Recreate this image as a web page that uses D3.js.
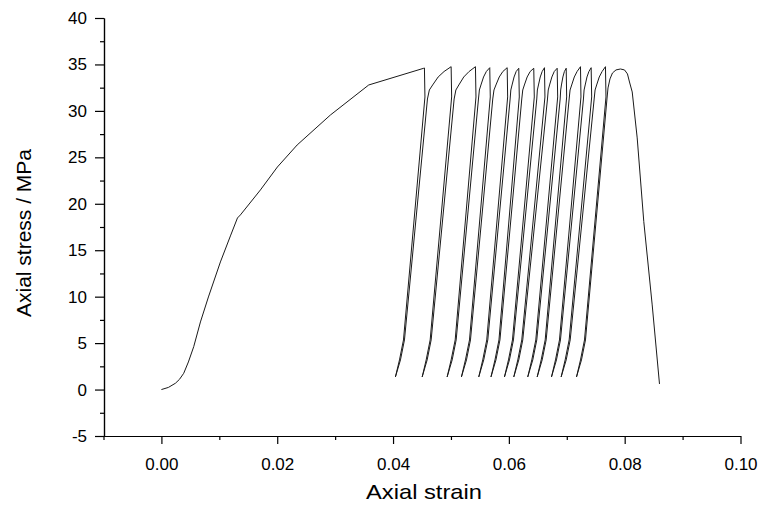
<!DOCTYPE html>
<html>
<head>
<meta charset="utf-8">
<script src="https://cdn.jsdelivr.net/npm/d3@7"></script>
<style>
  html, body { margin: 0; padding: 0; background: #fff; }
  svg { display: block; }
  text { font-family: "Liberation Sans", Arial, sans-serif; fill: #000; }
</style>
</head>
<body>
<svg id="chart" width="759" height="505"></svg>
<script>
// ---------- data ----------
// monotonic loading up to first peak
const loadStrain = [0, 0.00121, 0.00242, 0.00311, 0.00385, 0.00466, 0.00558, 0.00674, 0.00812, 0.01019, 0.01192, 0.01313, 0.01364, 0.01710, 0.02003, 0.02344, 0.02919, 0.03580, 0.04530, 0.04542];
const loadStress = [0, 0.23, 0.68, 1.09, 1.75, 2.97, 4.62, 7.28, 9.97, 13.74, 16.54, 18.47, 18.80, 21.49, 23.96, 26.33, 29.56, 32.79, 34.59, 34.62];

// unloading / reloading cycles (each: unload from peak to bottom, reload to next peak)
const cycleStrain = [
  0.04551, 0.04180, 0.04111, 0.04041, 0.04128, 0.04197, 0.04594, 0.04627, 0.04684, 0.04779, 0.04881, 0.05003,
  0.05012, 0.04641, 0.04572, 0.04503, 0.04589, 0.04658, 0.05055, 0.05085, 0.05136, 0.05221, 0.05313, 0.05423,
  0.05432, 0.05073, 0.05003, 0.04934, 0.05021, 0.05090, 0.05475, 0.05491, 0.05518, 0.05563, 0.05611, 0.05670,
  0.05679, 0.05320, 0.05250, 0.05181, 0.05268, 0.05337, 0.05722, 0.05743, 0.05777, 0.05834, 0.05896, 0.05971,
  0.05979, 0.05618, 0.05549, 0.05480, 0.05566, 0.05636, 0.06022, 0.06034, 0.06055, 0.06090, 0.06126, 0.06171,
  0.06180, 0.05829, 0.05760, 0.05691, 0.05777, 0.05846, 0.06223, 0.06240, 0.06268, 0.06316, 0.06368, 0.06430,
  0.06439, 0.06062, 0.05993, 0.05924, 0.06010, 0.06079, 0.06482, 0.06492, 0.06511, 0.06542, 0.06575, 0.06615,
  0.06623, 0.06223, 0.06154, 0.06085, 0.06171, 0.06240, 0.06667, 0.06680, 0.06703, 0.06743, 0.06784, 0.06834,
  0.06843, 0.06465, 0.06396, 0.06326, 0.06413, 0.06482, 0.06886, 0.06895, 0.06908, 0.06933, 0.06959, 0.06990,
  0.06998, 0.06627, 0.06558, 0.06489, 0.06575, 0.06644, 0.07041, 0.07057, 0.07085, 0.07130, 0.07178, 0.07237,
  0.07245, 0.06874, 0.06805, 0.06736, 0.06822, 0.06891, 0.07288, 0.07299, 0.07318, 0.07349, 0.07382, 0.07421,
  0.07430, 0.07041, 0.06972, 0.06903, 0.06990, 0.07059, 0.07473, 0.07489, 0.07516, 0.07561, 0.07610, 0.07668,
  0.07677, 0.07306, 0.07237, 0.07168, 0.07254, 0.07323
];
const cycleStress = [
  31.50, 5.34, 3.19, 1.36, 3.19, 5.34, 31.28, 32.25, 32.79, 33.65, 34.24, 34.76,
  31.50, 5.34, 3.19, 1.36, 3.19, 5.34, 31.28, 32.25, 32.79, 33.65, 34.24, 34.76,
  31.50, 5.34, 3.19, 1.36, 3.19, 5.34, 31.28, 32.25, 32.79, 33.65, 34.24, 34.65,
  31.50, 5.34, 3.19, 1.36, 3.19, 5.34, 31.28, 32.25, 32.79, 33.65, 34.24, 34.65,
  31.50, 5.34, 3.19, 1.36, 3.19, 5.34, 31.28, 32.25, 32.79, 33.65, 34.24, 34.59,
  31.50, 5.34, 3.19, 1.36, 3.19, 5.34, 31.28, 32.25, 32.79, 33.65, 34.24, 34.59,
  31.50, 5.34, 3.19, 1.36, 3.19, 5.34, 31.28, 32.25, 32.79, 33.65, 34.24, 34.65,
  31.50, 5.34, 3.19, 1.36, 3.19, 5.34, 31.28, 32.25, 32.79, 33.65, 34.24, 34.59,
  31.50, 5.34, 3.19, 1.36, 3.19, 5.34, 31.28, 32.25, 32.79, 33.65, 34.24, 34.59,
  31.50, 5.34, 3.19, 1.36, 3.19, 5.34, 31.28, 32.25, 32.79, 33.65, 34.24, 34.76,
  31.50, 5.34, 3.19, 1.36, 3.19, 5.34, 31.28, 32.25, 32.79, 33.65, 34.24, 34.65,
  31.50, 5.34, 3.19, 1.36, 3.19, 5.34, 31.28, 32.25, 32.79, 33.65, 34.24, 34.76,
  31.50, 5.34, 3.19, 1.36, 3.19, 5.34
];

// final reload, rounded peak and post-peak softening
const finalStrain = [0.07694, 0.07712, 0.07746, 0.07789, 0.07850, 0.07927, 0.07997, 0.08048, 0.08083, 0.08130, 0.08216, 0.08330, 0.08475, 0.08601];
const finalStress = [31.28, 32.47, 33.44, 34.08, 34.41, 34.51, 34.41, 33.98, 33.11, 32.04, 27.09, 18.08, 9.11, 0.60];

const xMajorTicks = [0.00, 0.02, 0.04, 0.06, 0.08, 0.10];
const xMinorTicks = [-0.01, 0.01, 0.03, 0.05, 0.07, 0.09];
const yMajorTicks = [-5, 0, 5, 10, 15, 20, 25, 30, 35, 40];
const yMinorTicks = [-2.5, 2.5, 7.5, 12.5, 17.5, 22.5, 27.5, 32.5, 37.5];

const xTitle = "Axial strain";
const yTitle = "Axial stress / MPa";

// ---------- drawing ----------
const svg = d3.select("#chart");
const x = d3.scaleLinear().domain([-0.01, 0.10]).range([103.5, 740.5]);
const y = d3.scaleLinear().domain([-5, 40]).range([436, 18]);

const points = [];
loadStrain.forEach((s, i) => points.push([s, loadStress[i]]));
cycleStrain.forEach((s, i) => points.push([s, cycleStress[i]]));
finalStrain.forEach((s, i) => points.push([s, finalStress[i]]));

const line = d3.line().x(d => x(d[0])).y(d => y(d[1]));
svg.append("path")
  .datum(points)
  .attr("d", line)
  .attr("fill", "none")
  .attr("stroke", "#1a1a1a")
  .attr("stroke-width", 1)
  .attr("stroke-linejoin", "round");

// axes
const xAxisMajor = d3.axisBottom(x).tickValues(xMajorTicks).tickFormat(d => d.toFixed(2))
  .tickSize(8).tickSizeOuter(0).tickPadding(14);
const xAxisMinor = d3.axisBottom(x).tickValues(xMinorTicks).tickFormat("").tickSize(4).tickSizeOuter(0);
const yAxisMajor = d3.axisLeft(y).tickValues(yMajorTicks).tickFormat(d => String(d))
  .tickSize(9).tickSizeOuter(0).tickPadding(8);
const yAxisMinor = d3.axisLeft(y).tickValues(yMinorTicks).tickFormat("").tickSize(4).tickSizeOuter(0);

function styleAxis(g) {
  g.selectAll("path, line").attr("stroke", "#000").attr("stroke-width", 1.2);
  g.selectAll("text").attr("font-size", 17).attr("font-family", "Liberation Sans, Arial, sans-serif").attr("fill", "#000");
}

svg.append("g").attr("transform", "translate(0,436)").call(xAxisMinor).call(styleAxis);
svg.append("g").attr("transform", "translate(0,436)").call(xAxisMajor).call(styleAxis);
svg.append("g").attr("transform", "translate(104,0)").call(yAxisMinor).call(styleAxis);
svg.append("g").attr("transform", "translate(104,0)").call(yAxisMajor).call(styleAxis);

// titles
svg.append("text")
  .attr("x", 424).attr("y", 499)
  .attr("text-anchor", "middle")
  .attr("font-size", 21)
  .attr("textLength", 116)
  .attr("lengthAdjust", "spacingAndGlyphs")
  .text(xTitle);
svg.append("text")
  .attr("transform", "translate(31,233) rotate(-90)")
  .attr("text-anchor", "middle")
  .attr("font-size", 21)
  .text(yTitle);
</script>
</body>
</html>
